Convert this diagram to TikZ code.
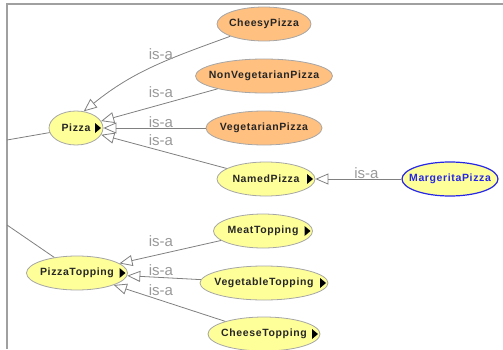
\documentclass[tikz,border=0pt]{standalone}
\usepackage{fontspec}
\setmainfont{Liberation Sans}
\newfontfamily\clsfont[LetterSpace=6]{Liberation Sans}
\usetikzlibrary{shapes.geometric,arrows.meta}
\definecolor{clsyellow}{HTML}{FFFF99}
\definecolor{clsorange}{HTML}{FFC080}
\definecolor{edgegray}{HTML}{808080}
\definecolor{framegray}{HTML}{A0A0A0}
\definecolor{indblue}{HTML}{2626E6}
\begin{document}
\begin{tikzpicture}[x=1pt, y=1pt,
  cls/.style={ellipse, draw=gray!70, line width=0.8pt, fill=clsyellow, minimum height=34pt, minimum width=#1, inner xsep=-15pt, inner ysep=0pt, font=\clsfont\bfseries\fontsize{10.5}{12}\selectfont, text=black!85},
  defined/.style={cls=#1, fill=clsorange},
  indiv/.style={cls=#1, draw=indblue, line width=1.2pt, text=indblue},
  sub/.style={path picture={\fill[black] ([xshift=-2pt]path picture bounding box.east) -- ++(-6pt,5pt) -- ++(0,-10pt) -- cycle;}},
  isaline/.style={draw=edgegray, line width=0.8pt, -{Triangle[open, length=13pt, width=11pt]}},
  isa/.style={text=gray!80, font=\fontsize{15}{15}\selectfont, inner sep=0pt}]
\useasboundingbox (0,0) rectangle (503,349);
% frame
\coordinate (frametl) at (7,345);
\coordinate (thing1) at (7,209);
\coordinate (thing2) at (7,124);
\draw[framegray, line width=1.5pt] (7,0) -- (frametl) -- (503,345);
\begin{scope}
\node[cls=54pt, sub] (pizza) at (76,221) {Pizza};
\node[cls=101pt, sub] (topping) at (77,76) {PizzaTopping};
\node[defined=94pt] (cheesy) at (264,325) {CheesyPizza};
\node[defined=137pt] (nonveg) at (264,273) {NonVegetarianPizza};
\node[defined=116pt] (veg) at (264,221) {VegetarianPizza};
\node[cls=98pt, sub] (named) at (266,170) {NamedPizza};
\node[indiv=96pt] (margherita) at (450,170) {MargeritaPizza};
\node[cls=99pt, sub] (meat) at (263,118) {MeatTopping};
\node[cls=128pt, sub] (vegtop) at (264,66) {VegetableTopping};
\node[cls=112pt, sub] (cheesetop) at (264,15) {CheeseTopping};
\end{scope}
\begin{scope}
\draw[edgegray, line width=0.8pt] (thing1) -- (pizza);
\draw[edgegray, line width=0.8pt] (thing2) -- (topping);
\draw[isaline] (cheesy.200) to[out=200, in=39] (pizza.65);
\draw (nonveg) edge[isaline] (pizza);
\draw (veg) edge[isaline] (pizza);
\draw (named) edge[isaline] (pizza);
\draw (margherita) edge[isaline] (named);
\draw (meat) edge[isaline] (topping);
\draw (vegtop) edge[isaline] (topping);
\draw (cheesetop) edge[isaline] (topping);
\end{scope}
\begin{scope}[every node/.style={isa}]
\node (isa1) at (161,294.5) {is-a};
\node (isa2) at (161,256.5) {is-a};
\node (isa3) at (161,227) {is-a};
\node (isa4) at (161,209) {is-a};
\node (isa5) at (366.5,175.5) {is-a};
\node (isa6) at (161,108) {is-a};
\node (isa7) at (161,79) {is-a};
\node (isa8) at (161,58.5) {is-a};
\end{scope}
\end{tikzpicture}
\end{document}
